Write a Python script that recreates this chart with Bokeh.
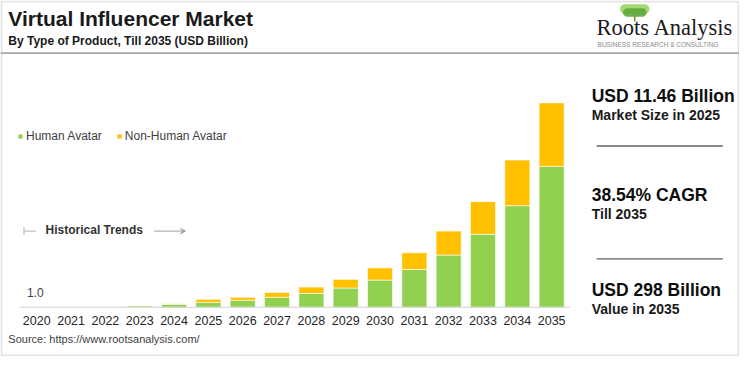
from bokeh.plotting import figure
from bokeh.models import (Label, BoxAnnotation, Arrow, VeeHead, TeeHead,
                          Legend, LegendItem, Range1d, ColumnDataSource)
from bokeh.core.properties import value
from bokeh.embed import file_html
from bokeh.resources import INLINE

# ---------------- data ----------------
years = list(range(2020, 2036))
tick_labels = [str(y) for y in years]
human = [0, 0, 0, 2.1, 4.2, 7.0, 10.2, 14.4, 20.0, 28.0, 39.6, 55.0, 76.0, 106.4, 148.0, 205.4]
non_human = [0, 0, 0, 0.3, 1.0, 4.46, 4.2, 7.0, 9.4, 12.6, 17.8, 24.4, 35.0, 47.6, 66.6, 92.6]
series = ["Human Avatar", "Non-Human Avatar"]
colors = ["#92D050", "#FFC000"]

title = "Virtual Influencer Market"
subtitle = "By Type of Product, Till 2035 (USD Billion)"
source = "Source: https://www.rootsanalysis.com/"
kpis = [("USD 11.46 Billion", "Market Size in 2025"),
        ("38.54% CAGR", "Till 2035"),
        ("USD 298 Billion", "Value in 2035")]

# ---------------- layout helpers ----------------
W, H = 739, 356
SX, SY = W / 755.0, H / 372.0
FONT = "Liberation Sans"


def X(x):
    return x * SX


def Y(y):
    return y * SY


# the frame covers the whole canvas; ranges place the chart region inside it
px_per_year = 35.07 * SX
x0 = 2019.5 - X(19.5) / px_per_year
base_px = Y(320.5)
units_per_px = 298.0 / (base_px - Y(107))
p = figure(width=W, height=H,
           x_range=Range1d(x0, x0 + W / px_per_year),
           y_range=Range1d(-(H - base_px) * units_per_px, base_px * units_per_px),
           output_backend="svg", toolbar_location=None,
           x_axis_location=None, y_axis_location=None, min_border=0,
           background_fill_color="white", border_fill_color="white")
p.xgrid.visible = False
p.ygrid.visible = False
p.outline_line_color = None

data = ColumnDataSource(dict(years=years, labels=tick_labels,
                             **{series[0]: human, series[1]: non_human}))
rs = p.vbar_stack(series, x="years", source=data, width=0.73, color=colors,
                  line_color="white", line_width=0.6)

# category (tick) labels under the baseline
p.text(x="years", y=0, text="labels", source=data, y_offset=Y(334) - base_px,
       text_font=value(FONT), text_font_size="12.5px", text_color="#262626",
       text_align="center", text_baseline="middle")

legend = Legend(items=[LegendItem(label=series[i], renderers=[rs[i]]) for i in range(2)],
                orientation="horizontal", location=(17, 213),
                label_text_font=FONT, label_text_font_size="12px",
                label_text_color="#404040", glyph_width=6, glyph_height=6,
                label_standoff=3, spacing=14, padding=0, margin=0,
                border_line_color=None, background_fill_alpha=0)
p.add_layout(legend)


def label(x, y, text, size, bold=False, color="#000000", font=FONT,
          baseline="middle", align="left"):
    p.add_layout(Label(x=X(x), y=Y(y), x_units="canvas", y_units="canvas",
                       text=text, text_font=font, text_font_size=size,
                       text_font_style="bold" if bold else "normal",
                       text_color=color, text_baseline=baseline, text_align=align))


def box(x_a, x_b, y_a, y_b, color, radius=0, alpha=1.0):
    p.add_layout(BoxAnnotation(left=X(x_a), right=X(x_b), top=Y(y_a),
                               bottom=Y(y_b), left_units="canvas",
                               right_units="canvas", top_units="canvas",
                               bottom_units="canvas", fill_color=color,
                               fill_alpha=alpha, line_color=None,
                               border_radius=radius))


def hline(x_a, x_b, y, color="#9a9a9a", thick=1.5):
    box(x_a, x_b, y - thick / 2, y + thick / 2, color)


# baseline (axis line)
hline(19.5, 582, 320.5, color="#d0d0d0", thick=1)

# outer border
p.add_layout(BoxAnnotation(left=1, right=W - 1, top=1, bottom=H - 1,
                           left_units="canvas", right_units="canvas",
                           top_units="canvas", bottom_units="canvas",
                           fill_alpha=0, line_color="#a6a6a6", line_width=2))

# header
label(8, 19, title, "21px", bold=True, color="#1a1a1a")
label(8, 42, subtitle, "12px", bold=True, color="#1a1a1a")
hline(0, 755, 55, color="#a6a6a6", thick=2)

# logo (small tree + name)
box(647.2, 648.8, 13, 22, "#6b8e3a")
box(633, 663, 4, 14, "#a5d873", radius=6)
box(636, 660, 8, 17, "#5ea83a", radius=5, alpha=0.9)
label(609, 28.5, "Roots Analysis", "22.5px", color="#1a1a1a",
      font="Liberation Serif", baseline="alphabetic")
label(610, 45.5, "BUSINESS RESEARCH & CONSULTING", "6.5px", color="#8a8a8a")

# annotations in chart
label(27, 305, "1.0", "12px", color="#404040")
label(46, 240, "Historical Trends", "12px", bold=True, color="#333333")
p.add_layout(Arrow(x_start=X(24), y_start=Y(241), x_end=X(36), y_end=Y(241),
                   start_units="canvas", end_units="canvas",
                   start=TeeHead(size=8, line_color="#b0b0b0", line_width=1),
                   end=None, line_color="#b0b0b0", line_width=1))
p.add_layout(Arrow(x_start=X(157), y_start=Y(241), x_end=X(189), y_end=Y(241),
                   start_units="canvas", end_units="canvas",
                   end=VeeHead(size=5, line_color="#a0a0a0", fill_color="#a0a0a0"),
                   line_color="#a0a0a0", line_width=1))

# source
label(8, 354, source, "11px", color="#404040")

# KPI panel
kpi_y = [100, 203, 302]
for (big, small), yy in zip(kpis, kpi_y):
    label(604, yy, big, "17.5px", bold=True, color="#0d0d0d")
    label(604, yy + 20, small, "14px", bold=True, color="#1a1a1a")
hline(609, 738, 152, color="#8c8c8c", thick=2)
hline(609, 738, 270, color="#8c8c8c", thick=2)

open("out.html", "w").write(file_html(p, INLINE))
